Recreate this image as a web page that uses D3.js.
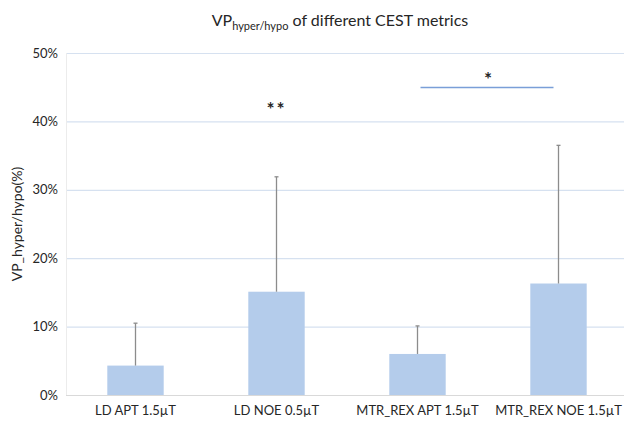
<!DOCTYPE html>
<html>
<head>
<meta charset="utf-8">
<script src="https://cdn.jsdelivr.net/npm/d3@7"></script>
<style>
  body { margin: 0; background: #fff; }
  text { font-family: Lato, "Open Sans", sans-serif; fill: #262626; }
</style>
</head>
<body>
<div id="chart"></div>
<script>
// Data
const categories = ["LD APT 1.5\u00b5T", "LD NOE 0.5\u00b5T", "MTR_REX APT 1.5\u00b5T", "MTR_REX NOE 1.5\u00b5T"];
const means = [4.3, 15.1, 6.0, 16.3];
const errorTops = [10.5, 31.9, 10.1, 36.5];
const yTicks = [0, 10, 20, 30, 40, 50];

const width = 624;
const height = 423;
const margin = { top: 53, right: 0, bottom: 28, left: 66 };
const plotBottom = height - margin.bottom; // 395

const svg = d3.select("#chart")
  .append("svg")
    .attr("width", width)
    .attr("height", height);

const x = d3.scaleBand()
  .domain(categories)
  .range([margin.left - 1, margin.left - 1 + 564])
  .paddingInner(0.6)
  .paddingOuter(0.3);

const y = d3.scaleLinear()
  .domain([0, 50])
  .range([plotBottom, margin.top]);

// gridlines
svg.append("g")
  .selectAll("line")
  .data(yTicks.filter(d => d > 0))
  .join("line")
    .attr("x1", margin.left)
    .attr("x2", width)
    .attr("y1", d => y(d) + 0.5)
    .attr("y2", d => y(d) + 0.5)
    .attr("stroke", "#d6e1f0")
    .attr("stroke-width", 1.2);

// left axis line (faint)
svg.append("line")
  .attr("x1", margin.left + 0.5)
  .attr("x2", margin.left + 0.5)
  .attr("y1", y(50))
  .attr("y2", plotBottom)
  .attr("stroke", "#ececec");

// y tick labels
svg.append("g")
  .selectAll("text")
  .data(yTicks)
  .join("text")
    .attr("x", margin.left - 8)
    .attr("y", d => y(d))
    .attr("dy", "0.35em")
    .attr("text-anchor", "end")
    .style("font-size", "13px")
    .text(d => d + "%");

// bars
svg.append("g")
  .selectAll("rect")
  .data(categories)
  .join("rect")
    .attr("x", d => x(d))
    .attr("y", (d, i) => y(means[i]))
    .attr("width", x.bandwidth())
    .attr("height", (d, i) => plotBottom - y(means[i]))
    .attr("fill", "#b4cceb");

// baseline
svg.append("line")
  .attr("x1", margin.left)
  .attr("x2", width)
  .attr("y1", plotBottom + 0.5)
  .attr("y2", plotBottom + 0.5)
  .attr("stroke", "#d9d9d9")
  .attr("stroke-width", 1.2);

// error bars (upper only)
const err = svg.append("g")
  .selectAll("g")
  .data(categories)
  .join("g")
    .attr("transform", d => `translate(${x(d) + x.bandwidth() / 2}, 0)`);

err.append("line")
  .attr("y1", (d, i) => y(means[i]))
  .attr("y2", (d, i) => y(errorTops[i]))
  .attr("stroke", "#8c8c8c")
  .attr("stroke-width", 1.3);

err.append("line")
  .attr("x1", -2)
  .attr("x2", 2)
  .attr("y1", (d, i) => y(errorTops[i]))
  .attr("y2", (d, i) => y(errorTops[i]))
  .attr("stroke", "#8c8c8c")
  .attr("stroke-width", 1.3);

// category labels
svg.append("g")
  .selectAll("text")
  .data(categories)
  .join("text")
    .attr("x", d => x(d) + x.bandwidth() / 2)
    .attr("y", plotBottom + 20)
    .attr("text-anchor", "middle")
    .style("font-size", "13px")
    .text(d => d);

// y axis title
svg.append("text")
  .attr("transform", `translate(22, ${(y(50) + plotBottom) / 2}) rotate(-90)`)
  .attr("text-anchor", "middle")
  .style("font-size", "14px")
  .text("VP_hyper/hypo(%)");

// title
const title = svg.append("text")
  .attr("x", 340)
  .attr("y", 26)
  .attr("text-anchor", "middle")
  .style("font-size", "16px");
title.append("tspan").text("VP");
title.append("tspan")
  .attr("dy", 4)
  .style("font-size", "11px")
  .text("hyper/hypo");
title.append("tspan")
  .attr("dy", -4)
  .text(" of different CEST metrics");

// significance marks
const c1 = x(categories[1]) + x.bandwidth() / 2;
svg.append("text")
  .attr("x", c1)
  .attr("y", 116)
  .attr("text-anchor", "middle")
  .style("font-size", "19px")
  .style("font-weight", "bold")
  .style("letter-spacing", "2px")
  .text("**");

const c2 = x(categories[2]) + x.bandwidth() / 2;
const c3 = x(categories[3]) + x.bandwidth() / 2;
svg.append("line")
  .attr("x1", c2 + 3)
  .attr("x2", c3 - 5)
  .attr("y1", 87.5)
  .attr("y2", 87.5)
  .attr("stroke", "#7a9fd8")
  .attr("stroke-width", 1.5);

svg.append("text")
  .attr("x", (c2 + c3) / 2)
  .attr("y", 86)
  .attr("text-anchor", "middle")
  .style("font-size", "19px")
  .style("font-weight", "bold")
  .text("*");
</script>
</body>
</html>
